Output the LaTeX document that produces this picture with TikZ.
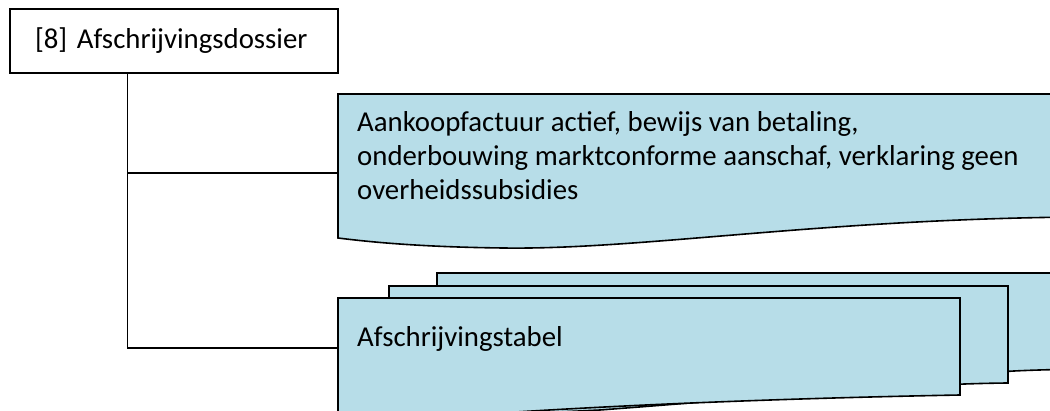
\documentclass[tikz,border=0pt]{standalone}
\usepackage{fontspec}
\setmainfont{Carlito}
\usepackage{tikz}
\usetikzlibrary{calc}
\usepackage{xcolor}
\definecolor{docblue}{HTML}{B7DDE8}

\tikzset{
	docshape/.style={fill=docblue, draw=black, line width=1.6pt, line join=miter},
	boxnode/.style={draw=black, line width=1.5pt, minimum width=328pt, minimum height=64pt,
		inner xsep=0pt, text width=278pt, align=left},
	doctext/.style={inner xsep=19pt, inner ysep=0pt, align=left},
	branch/.style={draw=black, line width=1.2pt},
}

\begin{document}
\begin{tikzpicture}[x=1pt,y=-1pt,font=\fontsize{28.8}{34}\selectfont]
		\useasboundingbox (0,0) rectangle (1050,411);
		\clip (0,0) rectangle (1050,411);
		% documents, back to front
		\draw[docshape] (437,273) -- (1080,273) -- (1080,369)
			.. controls (1030,370) and (1010,371) .. (1000,372) -- (437,420) -- cycle;
		\draw[docshape] (389,286) -- (1008,286) -- (1008,383)
			.. controls (900,384) and (760,398) .. (600,410) -- (389,420) -- cycle;
		\draw[docshape] (338,298) -- (960,298) -- (960,395)
			.. controls (800,398) and (640,404) .. (500,413)
			.. controls (420,415) and (370,414) .. (338,412) -- cycle;
		\draw[docshape] (338,94) -- (1080,94) -- (1080,217)
			.. controls (820,219) and (640,250) .. (503,248)
			.. controls (420,247) and (370,242) .. (338,238) -- cycle;
		% texts
		\node[boxnode] (dossier) at (174,41) {\mbox{[8] Afschrijvingsdossier}};
		\node[doctext, anchor=base west] (bewijs) at (338,200)
			{Aankoopfactuur actief, bewijs van betaling,\\onderbouwing marktconforme aanschaf, verklaring geen\\overheidssubsidies};
		\node[doctext, anchor=base west] (tabel) at (338,347) {Afschrijvingstabel};
		% connectors
		\coordinate (trunk) at ($(dossier.south west)+(118,0)$);
		\coordinate (bewijsin) at (338,173);
		\coordinate (tabelin) at (338,348);
		\draw[branch] (trunk) |- (bewijsin);
		\draw[branch] (trunk) |- (tabelin);
	\end{tikzpicture}
\end{document}
